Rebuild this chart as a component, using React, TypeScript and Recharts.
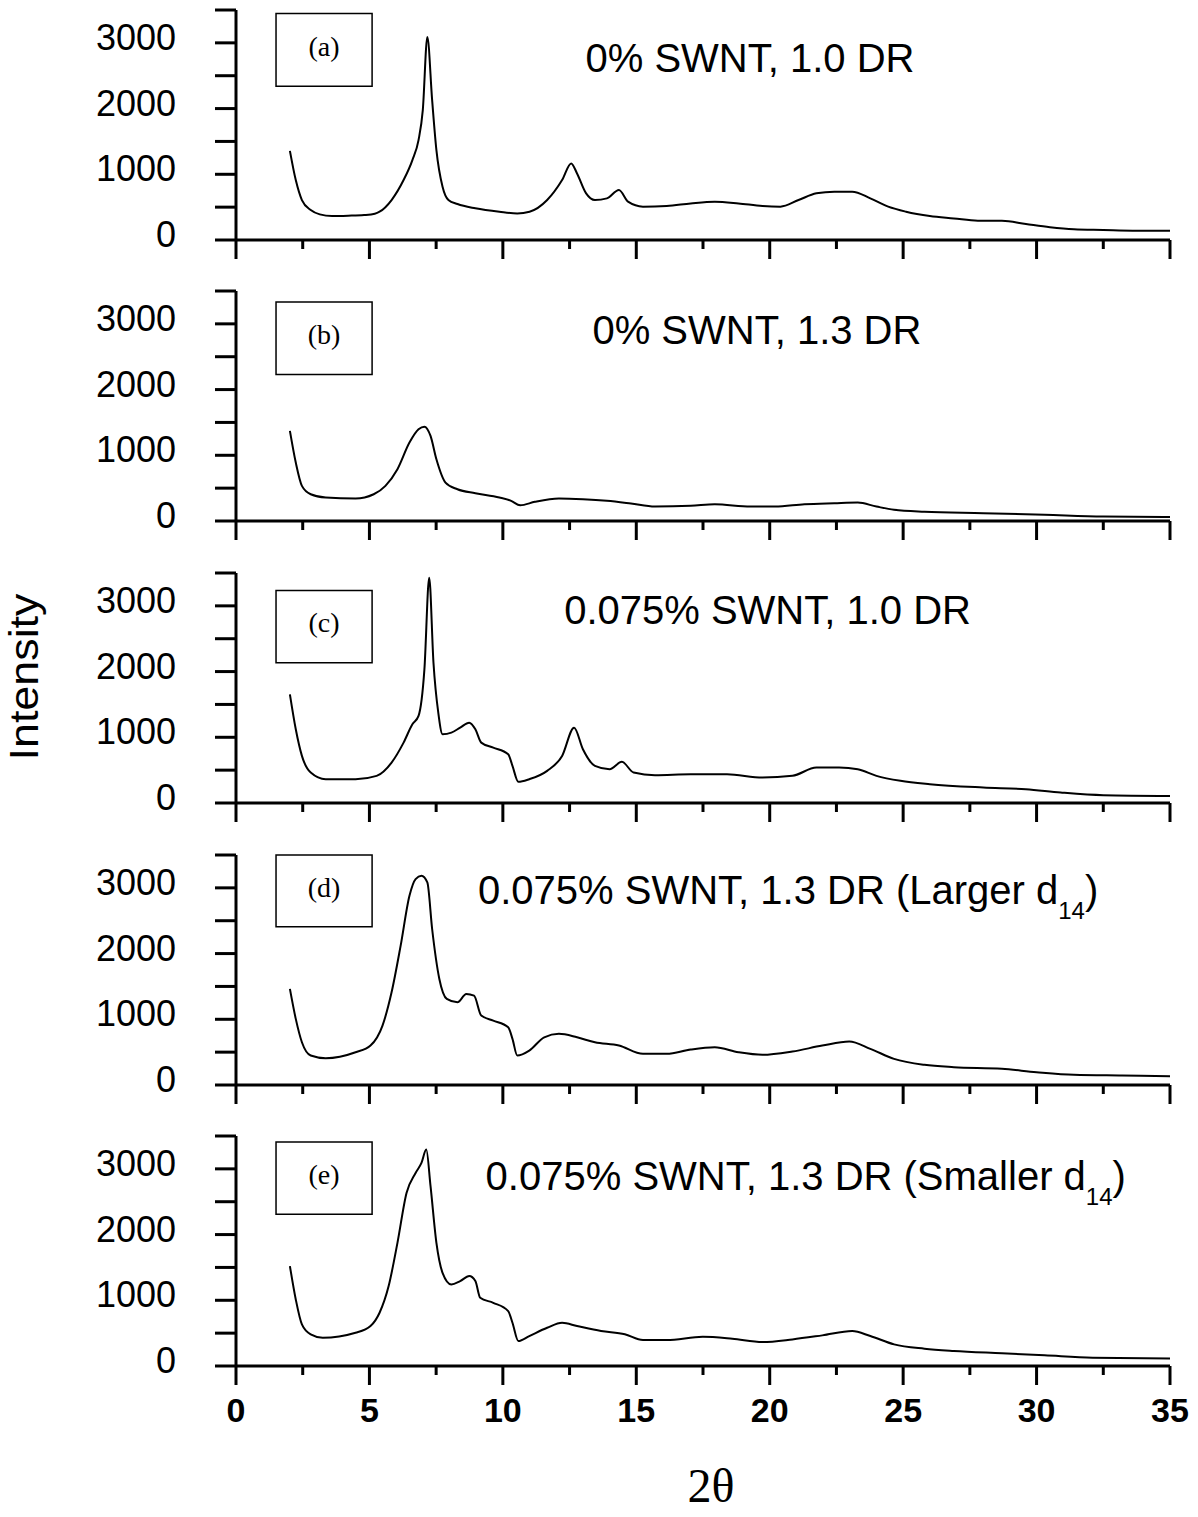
import React from "react";
import { LineChart, Line, XAxis, YAxis, ReferenceArea, ReferenceDot, Label } from "recharts";

const SANS = "Arial, 'Liberation Sans', Helvetica, sans-serif";
const SERIF = "'Times New Roman', 'Liberation Serif', Times, serif";

// axis ticks
const X_TICKS = [0, 2.5, 5, 7.5, 10, 12.5, 15, 17.5, 20, 22.5, 25, 27.5, 30, 32.5, 35];
const Y_TICKS = [0, 500, 1000, 1500, 2000, 2500, 3000, 3500];
const Y_LABELS = [0, 1000, 2000, 3000];

// (a) 0% SWNT, 1.0 DR
const A_X = [2.02, 2.24, 2.47, 2.8, 3.14, 3.6, 4.2, 4.8, 5.2, 5.38, 5.83, 6.28, 6.61, 6.84, 7.0, 7.17, 7.35, 7.51, 7.74, 7.96, 8.3, 8.97, 9.87, 10.54, 11.0, 11.66, 12.22, 12.56, 12.78, 13.12, 13.45, 13.9, 14.35, 14.69, 15.25, 16.14, 17.04, 17.94, 18.83, 19.73, 20.4, 21.08, 21.75, 22.42, 23.09, 23.77, 24.44, 25.11, 26.0, 26.9, 27.8, 28.7, 29.6, 30.5, 31.4, 32.5, 33.6, 35.0];
const A_Y = [1357, 912, 608, 456, 390, 365, 370, 380, 400, 430, 608, 912, 1216, 1520, 1976, 3090, 2128, 1368, 810, 608, 547, 482, 430, 405, 430, 608, 912, 1165, 1013, 710, 608, 634, 760, 583, 507, 517, 557, 583, 557, 517, 507, 608, 710, 735, 735, 634, 507, 430, 365, 329, 294, 294, 243, 193, 162, 152, 142, 142];

// (b) 0% SWNT, 1.3 DR
const B_X = [2.02, 2.24, 2.47, 2.8, 3.36, 4.48, 5.16, 5.6, 6.05, 6.5, 6.84, 7.06, 7.29, 7.51, 7.85, 8.3, 8.97, 9.87, 10.31, 10.65, 11.2, 12.1, 13.0, 13.9, 14.8, 15.7, 17.04, 17.94, 19.28, 20.2, 21.3, 22.42, 23.3, 24.0, 24.66, 25.8, 28.0, 30.3, 32.5, 35.0];
const B_Y = [1371, 889, 535, 407, 357, 342, 407, 535, 787, 1193, 1395, 1436, 1295, 939, 585, 483, 422, 357, 307, 240, 292, 342, 331, 307, 266, 220, 231, 255, 220, 220, 255, 271, 281, 220, 170, 140, 119, 94, 68, 60];

// (c) 0.075% SWNT, 1.0 DR
const C_X = [2.02, 2.24, 2.47, 2.8, 3.36, 4.48, 5.27, 5.83, 6.28, 6.61, 6.84, 7.06, 7.24, 7.4, 7.58, 7.74, 8.07, 8.4, 8.74, 8.97, 9.19, 9.64, 10.2, 10.36, 10.58, 10.99, 11.66, 12.22, 12.67, 13.0, 13.45, 14.0, 14.46, 14.9, 15.7, 17.04, 18.4, 19.73, 20.85, 21.75, 22.6, 23.3, 24.0, 24.9, 26.0, 28.0, 29.6, 30.9, 32.5, 35.0];
const C_Y = [1653, 1122, 717, 463, 362, 362, 413, 615, 919, 1198, 1325, 2033, 3427, 2135, 1375, 1046, 1071, 1147, 1223, 1122, 919, 843, 742, 565, 322, 362, 489, 717, 1147, 818, 565, 514, 626, 463, 423, 438, 438, 387, 413, 540, 540, 514, 413, 337, 286, 236, 210, 160, 119, 108];

// (d) 0.075% SWNT, 1.3 DR (Larger d14)
const D_X = [2.02, 2.24, 2.47, 2.8, 3.36, 4.48, 5.04, 5.49, 5.83, 6.17, 6.5, 6.73, 6.95, 7.17, 7.35, 7.62, 7.9, 8.3, 8.63, 8.92, 9.19, 9.64, 10.2, 10.36, 10.54, 10.99, 11.55, 12.1, 12.78, 13.45, 14.35, 15.25, 16.14, 17.04, 17.94, 18.83, 19.73, 20.85, 21.97, 22.98, 23.77, 24.66, 25.8, 26.9, 28.7, 30.0, 31.4, 33.2, 35.0];
const D_Y = [1462, 1006, 650, 448, 407, 498, 600, 904, 1410, 2120, 2880, 3134, 3184, 3082, 2374, 1614, 1310, 1258, 1386, 1360, 1056, 980, 878, 702, 448, 524, 726, 778, 726, 650, 600, 474, 474, 540, 574, 498, 459, 509, 600, 661, 550, 398, 307, 271, 246, 195, 155, 144, 134];

// (e) 0.075% SWNT, 1.3 DR (Smaller d14)
const E_X = [2.02, 2.24, 2.47, 2.8, 3.25, 4.48, 5.04, 5.38, 5.72, 6.05, 6.39, 6.73, 6.95, 7.13, 7.29, 7.51, 7.74, 8.07, 8.4, 8.74, 8.97, 9.15, 9.64, 10.2, 10.36, 10.58, 10.99, 11.66, 12.22, 12.78, 13.68, 14.57, 15.25, 16.14, 17.49, 18.6, 19.73, 20.85, 21.97, 23.09, 23.77, 24.66, 25.8, 26.9, 28.7, 30.3, 32.1, 35.0];
const E_Y = [1520, 1013, 634, 482, 430, 506, 608, 810, 1216, 1874, 2634, 2938, 3090, 3293, 2736, 1874, 1418, 1241, 1292, 1368, 1292, 1038, 962, 836, 658, 380, 456, 582, 658, 608, 532, 482, 395, 395, 445, 415, 365, 405, 466, 532, 456, 329, 263, 228, 193, 162, 126, 116];

const PANEL_TAGS = ["(a)", "(b)", "(c)", "(d)", "(e)"];
const PANEL_TITLES = [
  "0% SWNT, 1.0 DR",
  "0% SWNT, 1.3 DR",
  "0.075% SWNT, 1.0 DR",
  "0.075% SWNT, 1.3 DR (Larger d",
  "0.075% SWNT, 1.3 DR (Smaller d",
];
const PANEL_SUBS = ["", "", "", "14", "14"];

// placement of boxes / titles in data units, plus page offset of each chart
const LAYOUT = [
  { top: 0, boxTop: 3445, boxBottom: 2340, titleX: 19.26, titleY: 2558 },
  { top: 280.5, boxTop: 3331, boxBottom: 2231, titleX: 19.52, titleY: 2687 },
  { top: 562.5, boxTop: 3234, boxBottom: 2135, titleX: 19.92, titleY: 2717 },
  { top: 844.5, boxTop: 3500, boxBottom: 2409, titleX: 20.69, titleY: 2758 },
  { top: 1126, boxTop: 3409, boxBottom: 2310, titleX: 21.35, titleY: 2685 },
];

const SERIES = [
  [A_X, A_Y],
  [B_X, B_Y],
  [C_X, C_Y],
  [D_X, D_Y],
  [E_X, E_Y],
];

function YTick(props: any) {
  const { x, y, payload } = props;
  const v = payload.value;
  return (
    <g>
      <line x1={x} x2={x - 21} y1={y} y2={y} stroke="#000" strokeWidth={3} />
      {Y_LABELS.includes(v) && (
        <text x={x - 60} y={y + 7} textAnchor="end" fontSize={36} fontFamily={SANS} fill="#000">
          {v}
        </text>
      )}
    </g>
  );
}

function makeXTick(showLabels: boolean) {
  return (props: any) => {
    const { x, y, payload } = props;
    const major = payload.value % 5 === 0;
    return (
      <g>
        <line x1={x} x2={x} y1={y} y2={y + (major ? 19 : 9)} stroke="#000" strokeWidth={3} />
        {showLabels && major && (
          <text x={x} y={y + 56} textAnchor="middle" fontSize={34} fontWeight="bold" fontFamily={SANS} fill="#000">
            {payload.value}
          </text>
        )}
      </g>
    );
  };
}

function Panel({ index }: { index: number }) {
  const [xs, ys] = SERIES[index];
  const data = xs.map((x, i) => ({ x, y: ys[i] }));
  const lay = LAYOUT[index];
  const last = index === SERIES.length - 1;
  const height = last ? 391 : 280;

  return (
    <div style={{ position: "absolute", left: 0, top: lay.top, width: 1198, height }}>
      <LineChart width={1198} height={height} data={data} margin={{ top: 10, right: 28, bottom: 1, left: 0 }}>
        <XAxis
          dataKey="x"
          type="number"
          domain={[0, 35]}
          ticks={X_TICKS}
          interval={0}
          allowDataOverflow
          height={last ? 150 : 39}
          tickSize={0}
          tickMargin={0}
          tickLine={false}
          axisLine={{ stroke: "#000", strokeWidth: 3 }}
          tick={makeXTick(last)}
        >
          {last && (
            <Label
              content={() => (
                <text x={711} y={376} textAnchor="middle" fontSize={48} fontFamily={SERIF} fill="#000">
                  2θ
                </text>
              )}
            />
          )}
        </XAxis>
        <YAxis
          type="number"
          domain={[0, 3500]}
          ticks={Y_TICKS}
          interval={0}
          allowDataOverflow
          width={236}
          tickSize={0}
          tickMargin={0}
          tickLine={false}
          axisLine={{ stroke: "#000", strokeWidth: 3 }}
          tick={YTick}
        >
          {index === 2 && (
            <Label
              content={() => (
                <text
                  x={38}
                  y={114}
                  transform="rotate(-90, 38, 114)"
                  textAnchor="middle"
                  fontSize={40}
                  fontFamily={SANS}
                  textLength={167}
                  lengthAdjust="spacingAndGlyphs"
                  fill="#000"
                >
                  Intensity
                </text>
              )}
            />
          )}
        </YAxis>
        <ReferenceArea
          x1={1.5}
          x2={5.1}
          y1={lay.boxBottom}
          y2={lay.boxTop}
          fill="none"
          fillOpacity={0}
          stroke="#000"
          strokeWidth={1.5}
          ifOverflow="visible"
        >
          <Label
            content={(p: any) => {
              const vb = p.viewBox;
              return (
                <text x={vb.x + vb.width / 2} y={vb.y + 42} textAnchor="middle" fontSize={28} fontFamily={SERIF} fill="#000">
                  {PANEL_TAGS[index]}
                </text>
              );
            }}
          />
        </ReferenceArea>
        <ReferenceDot x={lay.titleX} y={lay.titleY} r={0} fill="none" stroke="none" ifOverflow="visible">
          <Label
            content={(p: any) => {
              const vb = p.viewBox;
              const sub = PANEL_SUBS[index];
              return (
                <text x={vb.x + vb.width / 2} y={vb.y + vb.height / 2} textAnchor="middle" fontSize={40} fontFamily={SANS} fill="#000">
                  {PANEL_TITLES[index]}
                  {sub && (
                    <>
                      <tspan fontSize={24} dy={15}>{sub}</tspan>
                      <tspan dy={-15}>)</tspan>
                    </>
                  )}
                </text>
              );
            }}
          />
        </ReferenceDot>
        <Line
          type="monotone"
          dataKey="y"
          stroke="#000"
          strokeWidth={2}
          dot={false}
          activeDot={false}
          isAnimationActive={false}
        />
      </LineChart>
    </div>
  );
}

export default function App() {
  return (
    <div style={{ position: "absolute", left: 0, top: 0, width: 1198, height: 1517, background: "#fff" }}>
      {SERIES.map((_, i) => (
        <Panel key={i} index={i} />
      ))}
    </div>
  );
}
